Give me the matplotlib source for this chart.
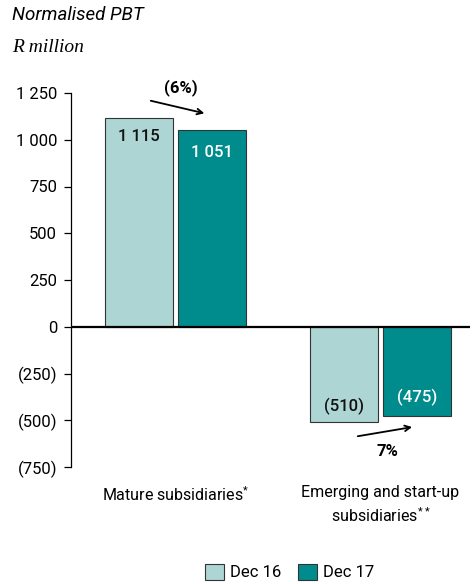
import matplotlib.pyplot as plt
import numpy as np

# data
categories = ["Mature subsidiaries$^{*}$", "Emerging and start-up\nsubsidiaries$^{**}$"]
series_names = ["Dec 16", "Dec 17"]
dec16 = [1115, -510]
dec17 = [1051, -475]
value_labels16 = ["1 115", "(510)"]
value_labels17 = ["1 051", "(475)"]
changes = ["(6%)", "7%"]
yticks = [1250, 1000, 750, 500, 250, 0, -250, -500, -750]
ytick_labels = ["1 250", "1 000", "750", "500", "250", "0", "(250)", "(500)", "(750)"]

light = "#acd5d4"
teal = "#008c8c"
plt.rcParams["font.family"] = ["Roboto", "DejaVu Sans"]
plt.rcParams["mathtext.fontset"] = "custom"
plt.rcParams["mathtext.rm"] = "Roboto"

fig = plt.figure(figsize=(4.77, 5.84), dpi=100)
ax = fig.add_axes([71 / 477, 1 - 467 / 584, 399 / 477, 374 / 584])

x = np.arange(len(categories))
w = 0.332
off = 0.18
ax.bar(x - off, dec16, w, color=light, edgecolor="#333333", linewidth=0.8, label=series_names[0])
ax.bar(x + off, dec17, w, color=teal, edgecolor="#333333", linewidth=0.8, label=series_names[1])

# value labels inside bars
for i in range(len(x)):
    s = 1 if dec16[i] > 0 else -1
    ax.text(x[i] - off, dec16[i] - s * (100 if s > 0 else 83), value_labels16[i],
            ha="center", va="center", fontsize=12, fontweight="medium", color="#111111")
    ax.text(x[i] + off, dec17[i] - s * (121 if s > 0 else 96), value_labels17[i],
            ha="center", va="center", fontsize=12, fontweight="medium", color="white")

# change arrows
ax.annotate("", xy=(0.154, dec17[0] + 87), xytext=(-0.134, dec16[0] + 97),
            arrowprops=dict(arrowstyle="->", color="black", lw=1.3), annotation_clip=False)
ax.text(0.027, dec16[0] + 162, changes[0], ha="center", va="center", fontsize=12,
        fontweight="bold", clip_on=False)
ax.annotate("", xy=(1.168, dec17[1] - 59), xytext=(0.876, dec16[1] - 78),
            arrowprops=dict(arrowstyle="->", color="black", lw=1.3), annotation_clip=False)
ax.text(1.034, dec16[1] - 158, changes[1], ha="center", va="center", fontsize=12,
        fontweight="bold")

ax.axhline(0, color="black", lw=1.6)
ax.set_xlim(-0.51, 1.437)
ax.set_ylim(-750, 1250)
ax.set_yticks(yticks)
ax.set_yticklabels(ytick_labels, fontsize=12)
ax.set_xticks(x)
ax.set_xticklabels(categories, fontsize=11.5, linespacing=1.4)
ax.tick_params(axis="x", length=0, pad=13)
ax.tick_params(axis="y", length=5, width=0.9, pad=5)
for sp in ["top", "right", "bottom"]:
    ax.spines[sp].set_visible(False)
ax.spines["left"].set_linewidth(0.9)

fig.text(12 / 477, 1 - 15 / 584, "Normalised PBT", fontsize=13.5, style="italic", va="center")
fig.text(12 / 477, 1 - 47 / 584, "R million", fontsize=14, style="italic",
         family="Liberation Serif", va="center")

fig.legend(loc="center", bbox_to_anchor=(290 / 477, 1 - 572 / 584), ncol=2, frameon=False,
           fontsize=12, handlelength=1.1, handleheight=1.1, handletextpad=0.4, columnspacing=1.0)

fig.savefig("out.png", dpi=100)
